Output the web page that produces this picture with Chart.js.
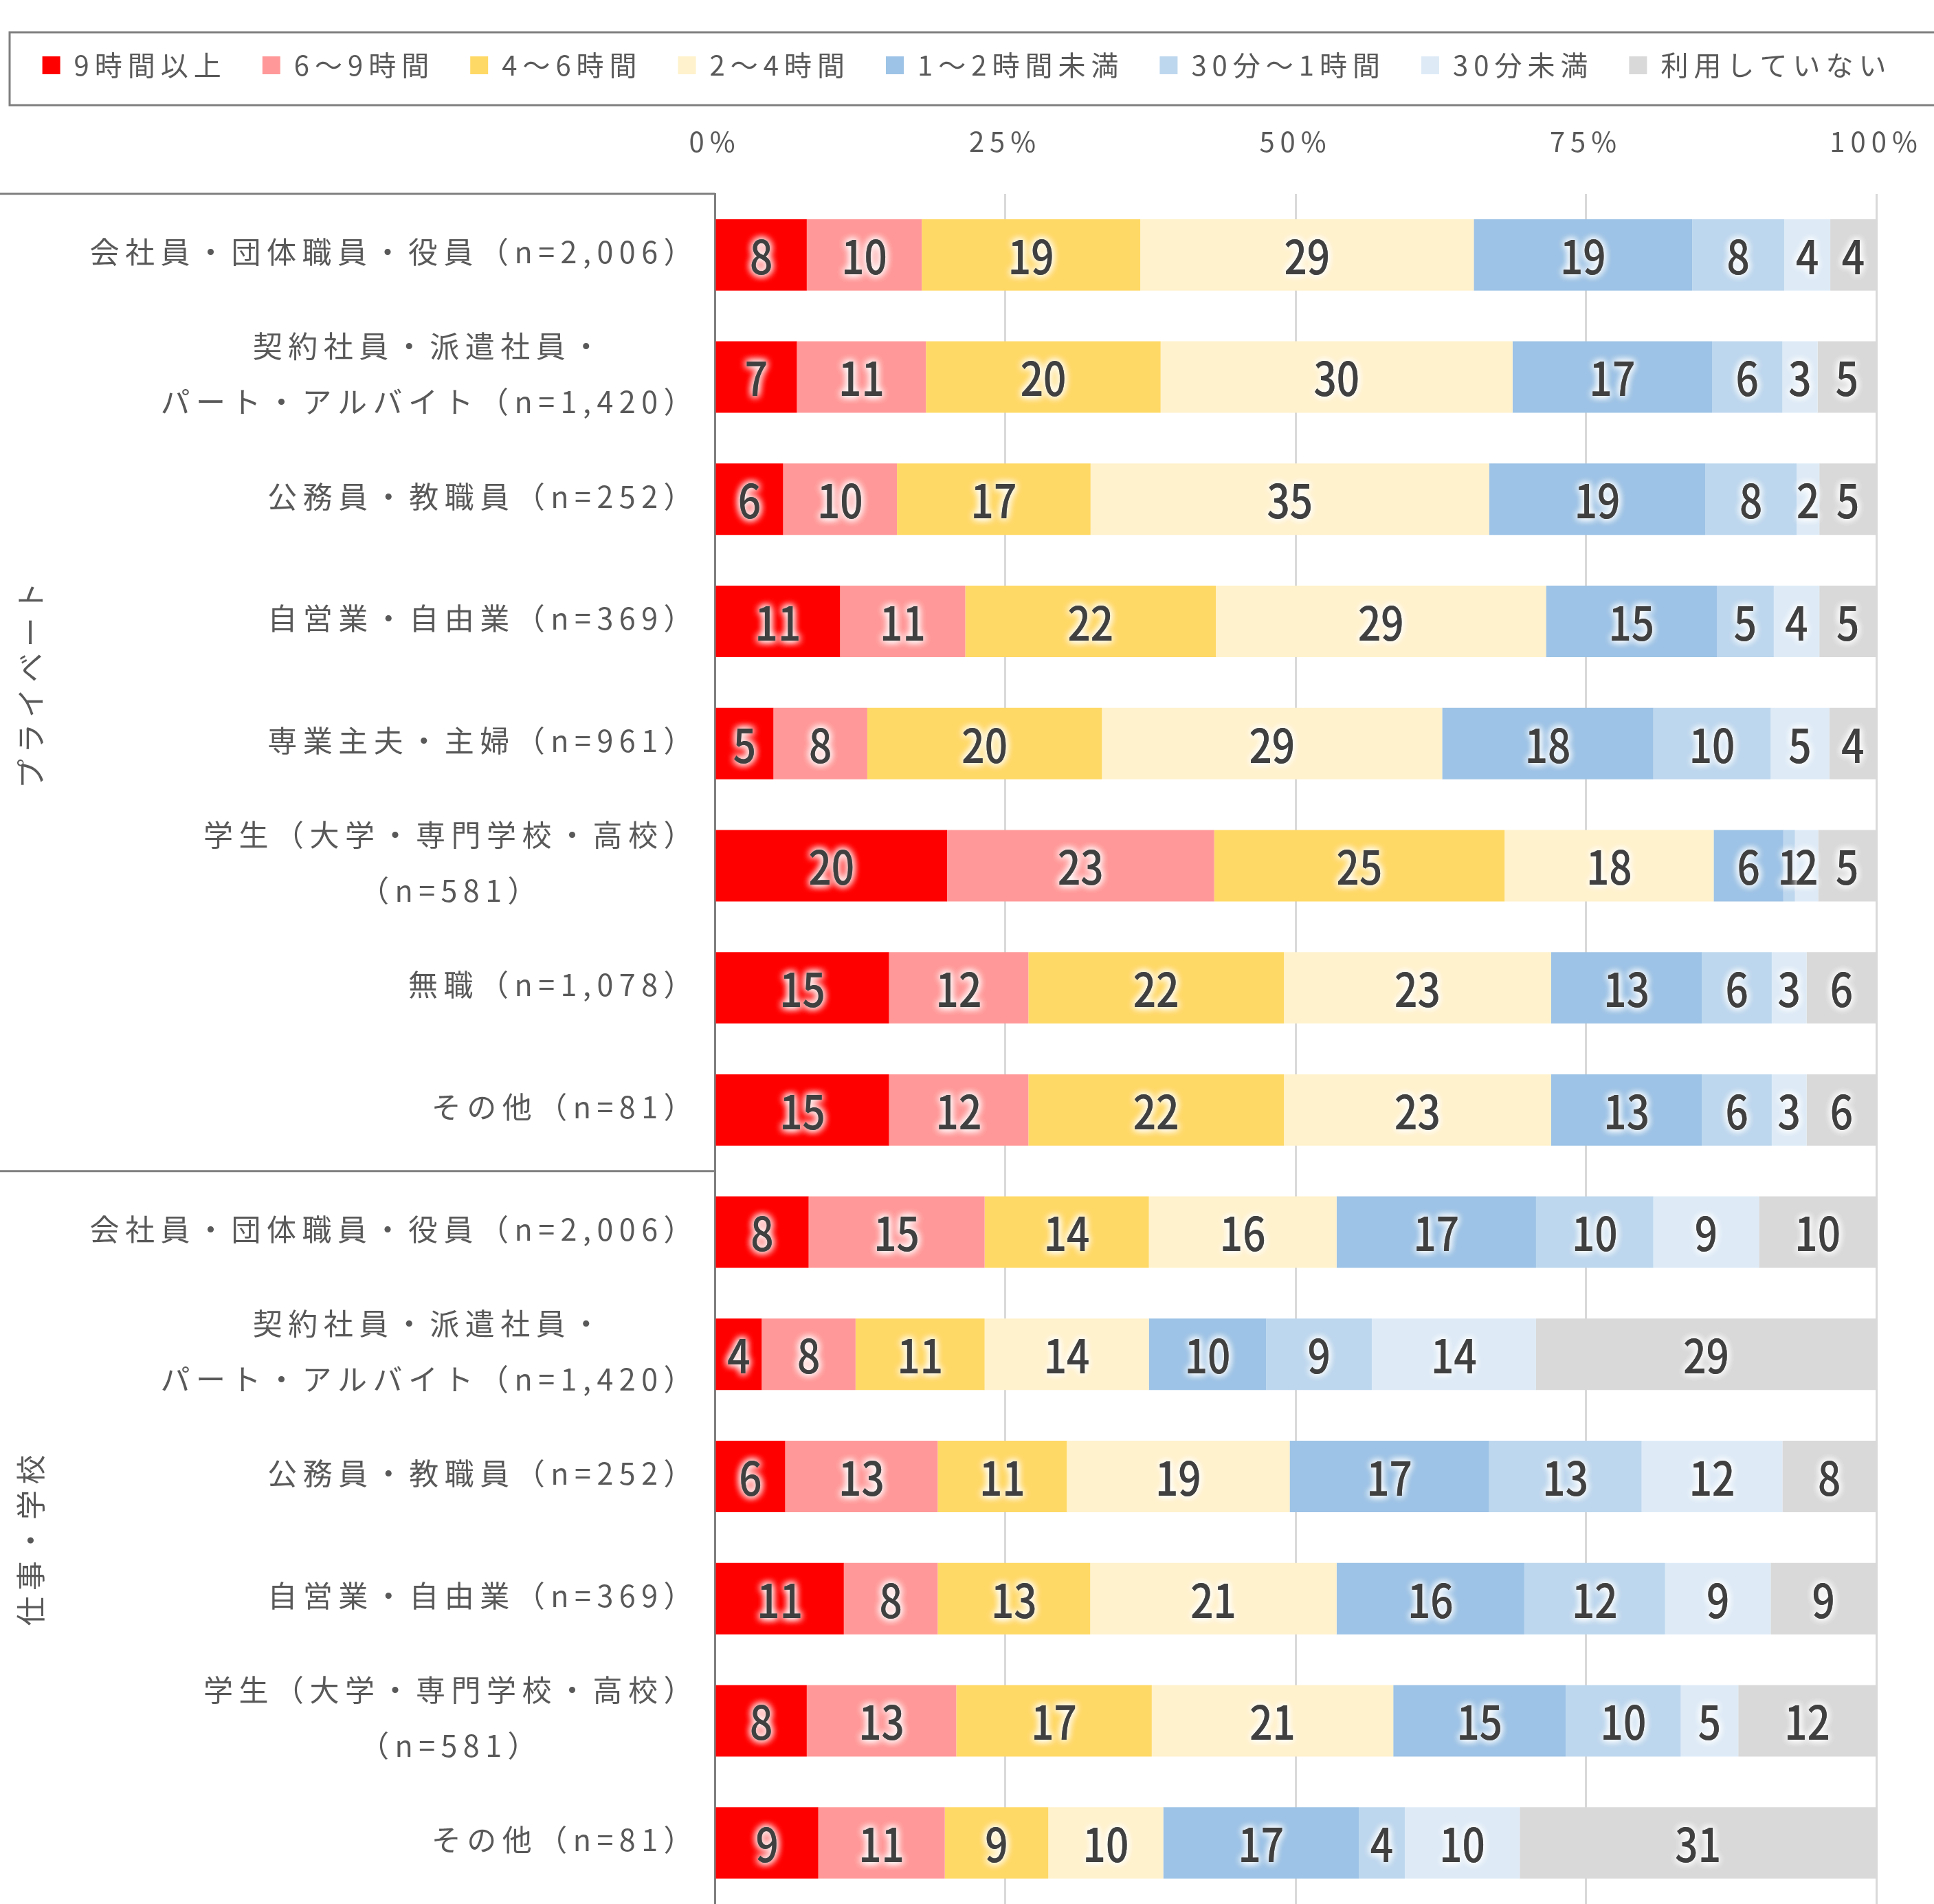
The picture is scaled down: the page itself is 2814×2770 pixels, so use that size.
<!DOCTYPE html>
<html lang="ja">
<head>
<meta charset="utf-8">
<script src="https://cdn.jsdelivr.net/npm/chart.js@4.4.1/dist/chart.umd.min.js"></script>
<style>
  html, body { margin: 0; padding: 0; background: #fff; }
  #wrap { width: 2814px; height: 2770px; }
</style>
</head>
<body>
<div id="wrap"><canvas id="myChart" width="2814" height="2770"></canvas></div>
<script>
const FONT = '"Noto Sans CJK JP", "Noto Sans", sans-serif';

const seriesNames = ["9時間以上", "6～9時間", "4～6時間", "2～4時間", "1～2時間未満", "30分～1時間", "30分未満", "利用していない"];
const seriesColors = ["#ff0000", "#ff9999", "#ffd966", "#fff2cc", "#9dc3e6", "#bdd7ee", "#deebf7", "#d9d9d9"];

const categories = [
  ["会社員・団体職員・役員（n=2,006）"],
  ["契約社員・派遣社員・", "パート・アルバイト（n=1,420）"],
  ["公務員・教職員（n=252）"],
  ["自営業・自由業（n=369）"],
  ["専業主夫・主婦（n=961）"],
  ["学生（大学・専門学校・高校）", "（n=581）"],
  ["無職（n=1,078）"],
  ["その他（n=81）"],
  ["会社員・団体職員・役員（n=2,006）"],
  ["契約社員・派遣社員・", "パート・アルバイト（n=1,420）"],
  ["公務員・教職員（n=252）"],
  ["自営業・自由業（n=369）"],
  ["学生（大学・専門学校・高校）", "（n=581）"],
  ["その他（n=81）"]
];
const groups = ["プライベート", "仕事・学校"];
const groupSizes = [8, 6];

// 値はグラフの表示ラベル（%）から読み取り
const over9h   = [8, 7, 6, 11, 5, 20, 15, 15, 8, 4, 6, 11, 8, 9];
const h6to9    = [10, 11, 10, 11, 8, 23, 12, 12, 15, 8, 13, 8, 13, 11];
const h4to6    = [19, 20, 17, 22, 20, 25, 22, 22, 14, 11, 11, 13, 17, 9];
const h2to4    = [29, 30, 35, 29, 29, 18, 23, 23, 16, 14, 19, 21, 21, 10];
const h1to2    = [19, 17, 19, 15, 18, 6, 13, 13, 17, 10, 17, 16, 15, 17];
const m30to60  = [8, 6, 8, 5, 10, 1, 6, 6, 10, 9, 13, 12, 10, 4];
const under30m = [4, 3, 2, 4, 5, 2, 3, 3, 9, 14, 12, 9, 5, 10];
const notUsing = [4, 5, 5, 5, 4, 5, 6, 6, 10, 29, 8, 9, 12, 31];

const xTicks = [0, 25, 50, 75, 100];

const seriesValues = [over9h, h6to9, h4to6, h2to4, h1to2, m30to60, under30m, notUsing];
// 100%積み上げ：各行の合計で割る
const rowTotals = categories.map((c, j) => seriesValues.reduce((s, arr) => s + arr[j], 0));

const LEGEND_PAD = 52;

// 棒の中の数値（白いにじみ付き）
const valueLabels = {
  id: "valueLabels",
  afterDatasetsDraw(chart) {
    const ctx = chart.ctx;
    ctx.save();
    ctx.letterSpacing = "0px";
    ctx.font = `500 68px ${FONT}`;
    ctx.textAlign = "center";
    ctx.textBaseline = "middle";
    seriesValues.forEach((arr, i) => {
      chart.getDatasetMeta(i).data.forEach((bar, j) => {
        const cx = (bar.x + bar.base) / 2;
        ctx.save();
        ctx.translate(cx, bar.y + 2);
        ctx.scale(0.86, 1);
        ctx.shadowColor = "#ffffff";
        ctx.shadowBlur = 12;
        ctx.fillStyle = "#404040";
        for (let k = 0; k < 3; k++) ctx.fillText(String(arr[j]), 0, 0);
        ctx.restore();
      });
    });
    ctx.restore();
  }
};

// 左側のカテゴリ名・グループ名・枠線、凡例の枠
const sideLabels = {
  id: "sideLabels",
  beforeLayout(chart) {
    chart.ctx.letterSpacing = "8px";
  },
  beforeDraw(chart) {
    chart.ctx.letterSpacing = "8px";
  },
  afterDraw(chart) {
    const { ctx, legend } = chart;
    const y = chart.scales.y;
    ctx.save();
    ctx.letterSpacing = "8.5px";
    ctx.font = `43px ${FONT}`;
    ctx.fillStyle = "#595959";
    ctx.textBaseline = "middle";
    ctx.textAlign = "center";
    categories.forEach((lines, i) => {
      const yc = y.getPixelForValue(i) - 4;
      const blockW = Math.max(...lines.map(l => ctx.measureText(l).width));
      const cx = y.right - 23 - blockW / 2;
      lines.forEach((line, k) => {
        ctx.fillText(line, cx, yc + (k - (lines.length - 1) / 2) * 81);
      });
    });

    // グループの区切り
    const rowH = y.getPixelForValue(1) - y.getPixelForValue(0);
    let start = 0;
    ctx.strokeStyle = "#7f7f7f";
    ctx.lineWidth = 3;
    groups.forEach((g, k) => {
      const top = y.getPixelForValue(start) - rowH / 2;
      const bottom = y.getPixelForValue(start + groupSizes[k] - 1) + rowH / 2;
      ctx.beginPath();
      ctx.moveTo(0, top);
      ctx.lineTo(y.right, top);
      ctx.stroke();
      ctx.save();
      ctx.translate(45, (top + bottom) / 2);
      ctx.rotate(-Math.PI / 2);
      ctx.fillText(g, 0, 0);
      ctx.restore();
      start += groupSizes[k];
    });

    // 凡例の枠
    const cy = legend.top + LEGEND_PAD + 20;
    ctx.beginPath();
    ctx.moveTo(2830, cy - 48);
    ctx.lineTo(14, cy - 48);
    ctx.lineTo(14, cy + 58);
    ctx.lineTo(2830, cy + 58);
    ctx.stroke();
    ctx.restore();
  }
};

new Chart(document.querySelector("#myChart"), {
  type: "bar",
  data: {
    labels: categories.map(c => c.join("")),
    datasets: seriesValues.map((arr, i) => ({
      label: seriesNames[i],
      data: arr.map((v, j) => v / rowTotals[j] * 100),
      backgroundColor: seriesColors[i],
      borderWidth: 0,
      barPercentage: 0.585,
      categoryPercentage: 1.0
    }))
  },
  options: {
    indexAxis: "y",
    responsive: false,
    devicePixelRatio: 1,
    animation: false,
    layout: { padding: { top: 23, right: 0, bottom: 0, left: 0 } },
    plugins: {
      tooltip: { enabled: false },
      legend: {
        position: "top",
        labels: {
          boxWidth: 26,
          boxHeight: 26,
          padding: LEGEND_PAD,
          color: "#595959",
          font: { family: FONT, size: 40 }
        }
      }
    },
    scales: {
      x: {
        position: "top",
        stacked: true,
        min: 0,
        max: 100,
        afterBuildTicks(scale) {
          scale.ticks = xTicks.map(v => ({ value: v }));
        },
        afterFit(scale) {
          scale.height = 157;
        },
        ticks: {
          padding: 0,
          color: "#595959",
          font: { family: FONT, size: 40 },
          callback: v => v + "%"
        },
        grid: {
          drawTicks: true,
          tickLength: 52,
          tickColor: "rgba(0,0,0,0)",
          lineWidth: 3,
          color: c => (c.tick && c.tick.value === 0 ? "rgba(0,0,0,0)" : "#d9d9d9")
        },
        border: { display: false }
      },
      y: {
        stacked: true,
        afterFit(scale) {
          scale.width = 1040;
        },
        ticks: { display: false },
        grid: { display: false },
        border: { display: true, color: "#7f7f7f", width: 3 }
      },
      // 右側の余白用（何も描かない）
      yRight: {
        type: "category",
        position: "right",
        afterFit(scale) {
          scale.width = 84;
        },
        ticks: { display: false },
        grid: { display: false },
        border: { display: false }
      }
    }
  },
  plugins: [valueLabels, sideLabels]
});
</script>
</body>
</html>
